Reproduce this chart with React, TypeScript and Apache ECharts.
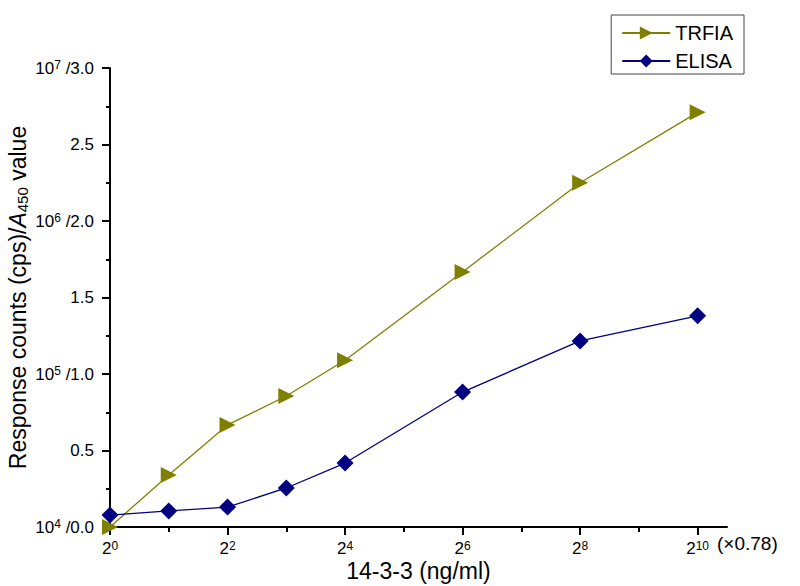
import React, { useEffect, useRef } from "react";
import * as echarts from "echarts";

// x values are exponents of 2 (×0.78 ng/ml)
const xExponents = [0, 1, 2, 3, 4, 6, 8, 10];
const trfia = [0.0, 0.34, 0.667, 0.856, 1.09, 1.667, 2.25, 2.71];
const elisa = [0.078, 0.105, 0.13, 0.255, 0.418, 0.882, 1.216, 1.38];

const xMajorTicks = [0, 2, 4, 6, 8, 10];
const xMinorTicks = [1, 3, 5, 7, 9];
const yTickValues = [0, 0.5, 1, 1.5, 2, 2.5, 3];
const yTickLabels = [
  "10{sup|4} /0.0",
  "0.5",
  "10{sup|5} /1.0",
  "1.5",
  "10{sup|6} /2.0",
  "2.5",
  "10{sup|7} /3.0",
];

const FONT = "'Liberation Sans', Arial, sans-serif";

export default function App() {
  const ref = useRef<HTMLDivElement>(null);
  useEffect(() => {
    if (!ref.current) return;
    const chart = echarts.init(ref.current, null, { renderer: "svg" });
    const supStyle = { fontSize: 12, padding: [0, 0, 7, 0], color: "#000", fontFamily: FONT };
    const xSupStyle = { fontSize: 12, padding: [0, 0, 5, 0], color: "#000", fontFamily: FONT };
    chart.setOption({
      animation: false,
      backgroundColor: "#fff",
      textStyle: { fontFamily: FONT },
      grid: {
        left: 110,
        right: 73,
        top: 68,
        bottom: 59,
        containLabel: false,
        outerBoundsMode: "none",
      },
      legend: {
        orient: "vertical",
        right: 56,
        top: 15,
        itemWidth: 48,
        itemHeight: 16,
        itemGap: 8,
        padding: [8, 11, 3, 10],
        borderColor: "#444",
        borderWidth: 1,
        textStyle: { fontSize: 20, color: "#000", fontFamily: FONT },
        data: ["TRFIA", "ELISA"],
      },
      xAxis: [
        {
          type: "value",
          min: 0,
          max: 10.5,
          interval: 1,
          name: "14-3-3 (ng/ml)",
          nameLocation: "middle",
          nameMoveOverlap: false,
          nameGap: 32,
          nameTextStyle: { fontSize: 23, color: "#000", fontFamily: FONT },
          splitLine: { show: false },
          axisLine: { lineStyle: { color: "#000", width: 2 } },
          axisTick: {
            customValues: xMajorTicks,
            length: 8,
            lineStyle: { color: "#000", width: 2 },
          },
          axisLabel: {
            customValues: xMajorTicks,
            margin: 13,
            fontSize: 17,
            color: "#000",
            fontFamily: FONT,
            formatter: (v: number) => `2{sup|${v}}`,
            rich: { sup: xSupStyle },
          },
        },
        {
          type: "value",
          min: 0,
          max: 10.5,
          interval: 1,
          position: "bottom",
          splitLine: { show: false },
          axisLine: { show: false },
          axisTick: {
            customValues: xMinorTicks,
            length: 5,
            lineStyle: { color: "#000", width: 2 },
          },
          axisLabel: { show: false },
        },
      ],
      yAxis: {
        type: "value",
        min: 0,
        max: 3,
        interval: 0.5,
        name: "Response counts (cps)/{i|A}{sub|450} value",
        nameLocation: "middle",
        nameMoveOverlap: false,
        nameRotate: 90,
        nameGap: 80,
        nameTextStyle: {
          fontSize: 23,
          color: "#000",
          fontFamily: FONT,
          rich: {
            i: { fontSize: 23, fontStyle: "italic", color: "#000", fontFamily: FONT },
            sub: { fontSize: 15, padding: [10, 0, 0, 0], color: "#000", fontFamily: FONT },
          },
        },
        splitLine: { show: false },
        axisLine: { show: true, lineStyle: { color: "#000", width: 2 } },
        axisTick: { show: true, length: 8, lineStyle: { color: "#000", width: 2 } },
        minorTick: { show: true, splitNumber: 2, length: 4, lineStyle: { color: "#000", width: 2 } },
        axisLabel: {
          margin: 16,
          fontSize: 17,
          color: "#000",
          fontFamily: FONT,
          formatter: (v: number) => {
            const i = yTickValues.findIndex((t) => Math.abs(t - v) < 1e-9);
            return i >= 0 ? yTickLabels[i] : "";
          },
          rich: { sup: supStyle },
        },
      },
      graphic: [
        {
          type: "text",
          left: 717,
          top: 534,
          style: { text: "(\u00D70.78)", fontSize: 19, fill: "#000", fontFamily: FONT },
        },
      ],
      series: [
        {
          name: "TRFIA",
          type: "line",
          data: xExponents.map((x, i) => [x, trfia[i]]),
          symbol: "triangle",
          symbolRotate: -90,
          symbolSize: 16,
          clip: false,
          lineStyle: { color: "#808000", width: 1.3 },
          itemStyle: { color: "#808000" },
        },
        {
          name: "ELISA",
          type: "line",
          data: xExponents.map((x, i) => [x, elisa[i]]),
          symbol: "diamond",
          symbolSize: 17,
          clip: false,
          lineStyle: { color: "#000080", width: 1.3 },
          itemStyle: { color: "#000080" },
        },
      ],
    });
    return () => chart.dispose();
  }, []);
  return <div ref={ref} style={{ width: 800, height: 586, position: "absolute", left: 0, top: 0 }} />;
}
